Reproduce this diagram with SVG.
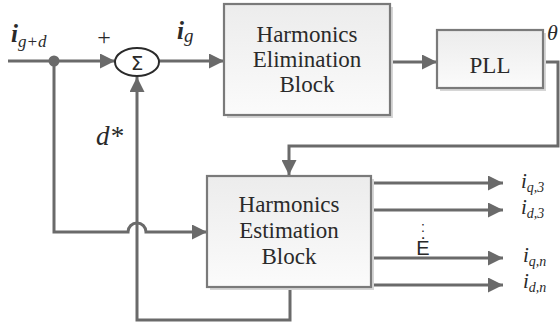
<svg xmlns="http://www.w3.org/2000/svg" width="560" height="323" viewBox="0 0 560 323">
<style>
.ln{fill:none;stroke:#6a6a6a;stroke-width:3}
.box{fill:url(#bg);stroke:#7a7a7a;stroke-width:2.2}
.sh{fill:#d6d6d6}
</style>
<defs>
<linearGradient id="bg" x1="0" y1="0" x2="0" y2="1">
<stop offset="0" stop-color="#ececec"/>
<stop offset="1" stop-color="#fbfbfb"/>
</linearGradient>
<marker id="ah" viewBox="0 0 10 10" refX="10" refY="5" markerUnits="userSpaceOnUse" markerWidth="18" markerHeight="15" orient="auto">
<path d="M0,0 L10,5 L0,10 z" fill="#6a6a6a"/>
</marker>
</defs>
<rect width="560" height="323" fill="#ffffff"/>
<g id="connectors">
<line class="ln" x1="8" y1="61" x2="115" y2="61" marker-end="url(#ah)"/>
<line class="ln" x1="159" y1="61" x2="224" y2="61" marker-end="url(#ah)"/>
<line class="ln" x1="390" y1="62" x2="437" y2="62" marker-end="url(#ah)"/>
<polyline class="ln" points="543,62 558,62 558,146 289,146 289,175" marker-end="url(#ah)"/>
<path class="ln" d="M54,61 V232 H128 A9,9 0 0 1 146,232 H207" marker-end="url(#ah)"/>
<polyline class="ln" points="290,287 290,320 137,320 137,77" marker-end="url(#ah)"/>
<line class="ln" x1="371" y1="183" x2="503" y2="183" marker-end="url(#ah)"/>
<line class="ln" x1="371" y1="210" x2="503" y2="210" marker-end="url(#ah)"/>
<line class="ln" x1="371" y1="258" x2="503" y2="258" marker-end="url(#ah)"/>
<line class="ln" x1="371" y1="285" x2="503" y2="285" marker-end="url(#ah)"/>
<circle cx="54" cy="61" r="5.5" fill="#6a6a6a"/>
</g>
<g id="sum">
<ellipse cx="137" cy="62" rx="22" ry="14" fill="#ffffff" stroke="#2a2a2a" stroke-width="2"/>
<text x="137" y="70" font-family="DejaVu Sans" font-size="20" fill="#2a2a2a" text-anchor="middle">Σ</text>
</g>
<g id="heb">
<rect class="sh" x="227" y="7" width="166" height="111"/>
<rect class="box" x="224" y="4" width="166" height="111"/>
<text x="307" y="42" font-family="Liberation Serif" font-size="23" fill="#2a2a2a" text-anchor="middle">Harmonics</text>
<text x="307" y="67" font-family="Liberation Serif" font-size="23" fill="#2a2a2a" text-anchor="middle">Elimination</text>
<text x="307" y="92" font-family="Liberation Serif" font-size="23" fill="#2a2a2a" text-anchor="middle">Block</text>
</g>
<g id="pll">
<rect class="sh" x="440" y="33" width="106" height="58"/>
<rect class="box" x="437" y="30" width="106" height="58"/>
<text x="490" y="73" font-family="Liberation Serif" font-size="23" fill="#2a2a2a" text-anchor="middle">PLL</text>
</g>
<g id="hest">
<rect class="sh" x="210" y="179" width="164" height="111"/>
<rect class="box" x="207" y="176" width="164" height="111"/>
<text x="289" y="212" font-family="Liberation Serif" font-size="23" fill="#2a2a2a" text-anchor="middle">Harmonics</text>
<text x="289" y="238" font-family="Liberation Serif" font-size="23" fill="#2a2a2a" text-anchor="middle">Estimation</text>
<text x="289" y="264" font-family="Liberation Serif" font-size="23" fill="#2a2a2a" text-anchor="middle">Block</text>
</g>
<g id="labels">
<text x="11" y="42" font-family="Liberation Serif" font-style="italic" fill="#2a2a2a" font-size="25" font-weight="bold">i<tspan font-size="17" font-weight="normal" dy="5">g+d</tspan></text>
<text x="104" y="45" font-family="Liberation Serif" fill="#2a2a2a" font-size="24" text-anchor="middle">+</text>
<text x="177" y="39" font-family="Liberation Serif" font-style="italic" fill="#2a2a2a" font-size="25" font-weight="bold">i<tspan font-size="19" font-weight="normal" dy="3">g</tspan></text>
<text x="547" y="40" font-family="Liberation Serif" font-style="italic" fill="#2a2a2a" font-size="22">θ</text>
<text x="96" y="145" font-family="Liberation Serif" font-style="italic" fill="#2a2a2a" font-size="27">d*</text>
<text x="521" y="188" font-family="Liberation Serif" font-style="italic" fill="#2a2a2a" font-size="21">i<tspan font-size="14" dy="4">q,3</tspan></text>
<text x="521" y="214" font-family="Liberation Serif" font-style="italic" fill="#2a2a2a" font-size="21">i<tspan font-size="14" dy="4">d,3</tspan></text>
<text x="523" y="262" font-family="Liberation Serif" font-style="italic" fill="#2a2a2a" font-size="21">i<tspan font-size="14" dy="4">q,n</tspan></text>
<text x="523" y="288" font-family="Liberation Serif" font-style="italic" fill="#2a2a2a" font-size="21">i<tspan font-size="14" dy="4">d,n</tspan></text>
<text x="423" y="232" font-family="Liberation Sans" fill="#2a2a2a" font-size="14" text-anchor="middle">:</text>
<text x="423" y="255" font-family="Liberation Sans" fill="#2a2a2a" font-size="20" text-anchor="middle">Ė</text>
</g>
</svg>
